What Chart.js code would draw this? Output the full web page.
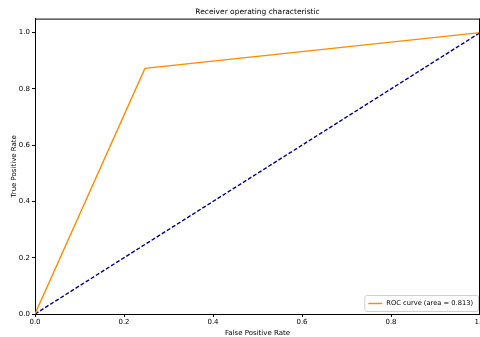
<!DOCTYPE html>
<html><head><meta charset="utf-8">
<script src="https://cdn.jsdelivr.net/npm/chart.js@4/dist/chart.umd.min.js"></script>
<style>html,body{margin:0;padding:0;background:#fff}#wrap{width:480px;height:337px}</style>
</head><body><div id="wrap"><canvas id="c" width="480" height="337"></canvas></div>
<script>
const fpr = [0.0, 0.247, 1.0];
const tpr = [0.0, 0.873, 1.0];
const diagX = [0, 1];
const diagY = [0, 1];
const xTicks = [0, 0.2, 0.4, 0.6, 0.8, 1.0];
const yTicks = [0, 0.2, 0.4, 0.6, 0.8, 1.0];
const rocLabel = 'ROC curve (area = 0.813)';
const FONT = 'DejaVu Sans';

const framePlugin = {
  id: 'frame',
  afterDraw(chart) {
    const {ctx, chartArea: a} = chart;
    ctx.save();
    ctx.strokeStyle = '#000'; ctx.lineWidth = 1;
    ctx.beginPath();
    ctx.moveTo(a.left, a.top + 0.5); ctx.lineTo(a.right, a.top + 0.5);
    ctx.moveTo(a.right - 0.5, a.top); ctx.lineTo(a.right - 0.5, a.bottom);
    ctx.stroke();
    // legend
    ctx.font = '6.7px "' + FONT + '"';
    const tw = ctx.measureText(rocLabel).width;
    const w = Math.max(112, tw + 27), h = 16;
    const x = a.right - w - 2, y = a.bottom - h - 3;
    ctx.fillStyle = 'rgba(255,255,255,0.8)';
    ctx.strokeStyle = '#d0d0d0';
    ctx.beginPath();
    ctx.roundRect(x + 0.5, y + 0.5, w, h, 2);
    ctx.fill(); ctx.stroke();
    ctx.strokeStyle = 'darkorange'; ctx.lineWidth = 1.4;
    ctx.beginPath(); ctx.moveTo(x + 4, y + 8.5); ctx.lineTo(x + 18, y + 8.5); ctx.stroke();
    ctx.fillStyle = '#000';
    ctx.textBaseline = 'middle';
    ctx.fillText(rocLabel, x + 22, y + 8.5);
    ctx.restore();
  }
};

new Chart(document.getElementById('c'), {
  type: 'scatter',
  data: {
    datasets: [
      { label: rocLabel, data: fpr.map((v, i) => ({x: v, y: tpr[i]})), showLine: true,
        borderColor: 'darkorange', borderWidth: 1.4, pointRadius: 0, fill: false, tension: 0 },
      { label: 'chance', data: diagX.map((v, i) => ({x: v, y: diagY[i]})), showLine: true,
        borderColor: 'navy', borderWidth: 1.4, borderDash: [4, 2], pointRadius: 0, fill: false }
    ]
  },
  options: {
    responsive: false, animation: false,
    layout: { padding: { left: 0, right: 0, top: 0, bottom: 0 } },
    plugins: {
      legend: { display: false },
      tooltip: { enabled: false },
      title: { display: true, text: 'Receiver operating characteristic', color: '#000',
        fullSize: false, font: { family: FONT, size: 7.5, weight: 'normal' },
        padding: { top: 7.6, bottom: 2 } }
    },
    scales: {
      x: {
        type: 'linear', min: 0, max: 1,
        afterFit(s) { s.height = 23; s.paddingRight = 0; s.paddingLeft = 0; },
        afterBuildTicks(s) { s.ticks = xTicks.map(v => ({value: v})); },
        ticks: { color: '#000', font: { family: FONT, size: 7 }, padding: 1, maxRotation: 0,
          callback: v => v.toFixed(1) },
        grid: { display: true, drawOnChartArea: false, drawTicks: true, tickLength: 3, color: '#000' },
        border: { display: true, color: '#000', width: 1 },
        title: { display: true, text: 'False Positive Rate', color: '#000',
          font: { family: FONT, size: 7 }, padding: { top: 0, bottom: 0 } }
      },
      y: {
        type: 'linear', min: 0, max: 1.05,
        afterFit(s) { s.width = 35; s.paddingTop = 0; s.paddingBottom = 0; },
        afterBuildTicks(s) { s.ticks = yTicks.map(v => ({value: v})); },
        ticks: { color: '#000', font: { family: FONT, size: 7 }, padding: 2,
          callback: v => v.toFixed(1) },
        grid: { display: true, drawOnChartArea: false, drawTicks: true, tickLength: 3, color: '#000' },
        border: { display: true, color: '#000', width: 1 },
        title: { display: true, text: 'True Positive Rate', color: '#000',
          font: { family: FONT, size: 7 }, padding: { top: 10, bottom: 0 } }
      }
    }
  },
  plugins: [framePlugin]
});
</script></body></html>
